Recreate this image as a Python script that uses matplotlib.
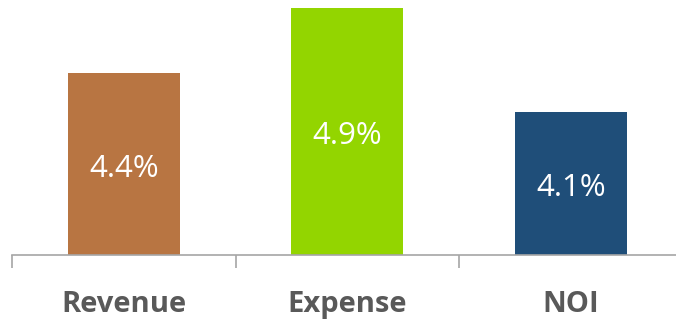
import matplotlib.pyplot as plt
import numpy as np

# data
categories = ["Revenue", "Expense", "NOI"]
values = [4.4, 4.9, 4.1]
bar_colors = ["#B87542", "#93D500", "#1F4E79"]

plt.rcParams['font.family'] = ['Open Sans', 'DejaVu Sans']

fig = plt.figure(figsize=(6.76, 3.2), dpi=100)
# axis runs off the right edge like in the original
ax = fig.add_axes([12 / 676, 65 / 320, 670.5 / 676, 255 / 320])

x = np.arange(len(categories))
bars = ax.bar(x, values, width=0.5, color=bar_colors, bottom=0)

ax.set_xlim(-0.5, 2.5)
ax.set_ylim(3.0, 3.0 + 255 / 130)

for b, v in zip(bars, values):
    ax.text(b.get_x() + b.get_width() / 2, (3.0 + v) / 2 - 0.035, f"{v}%",
            ha='center', va='center', color='white', fontsize=22.5)

for s in ['top', 'right', 'left']:
    ax.spines[s].set_visible(False)
ax.spines['bottom'].set_color('#A6A6A6')
ax.spines['bottom'].set_linewidth(1.2)

ax.set_yticks([])
ax.set_xticks(x)
ax.set_xticklabels(categories, fontsize=21, fontweight='bold', color='#595959')
ax.tick_params(axis='x', which='major', length=0, pad=25)
ax.set_xticks([-0.5, 0.5, 1.5, 2.5], minor=True)
ax.tick_params(axis='x', which='minor', length=9, width=1.2, color='#A6A6A6')

fig.savefig("out.png", dpi=100)
